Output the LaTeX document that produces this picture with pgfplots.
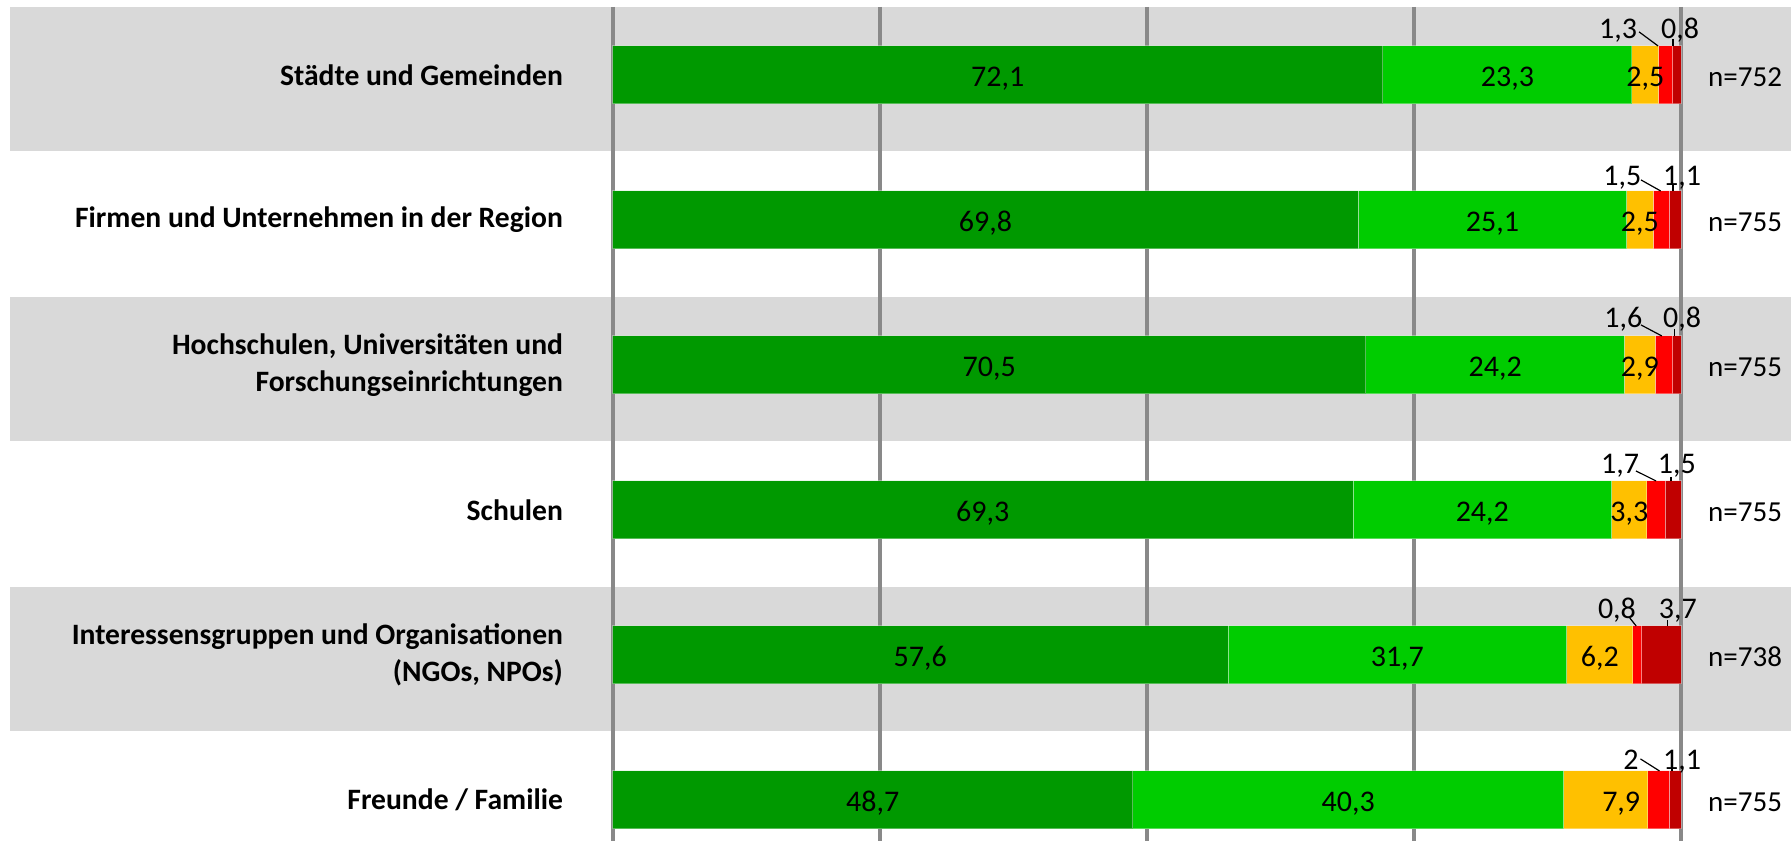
\documentclass[border=0pt]{standalone}
\usepackage{pgfplots}
\pgfplotsset{compat=1.18}
\usepackage{pgfplotstable}
\usepackage{fontspec}
\setmainfont{Carlito}
\definecolor{cA}{RGB}{0,153,0}
\definecolor{cB}{RGB}{0,204,0}
\definecolor{cC}{RGB}{255,192,0}
\definecolor{cD}{RGB}{255,0,0}
\definecolor{cE}{RGB}{192,0,0}
\definecolor{bandgray}{RGB}{217,217,217}
\definecolor{gridc}{RGB}{137,137,137}
\pgfplotstableread{
row a b c d e n
0 72.1 23.3 2.5 1.3 0.8 752
1 69.8 25.1 2.5 1.5 1.1 755
2 70.5 24.2 2.9 1.6 0.8 755
3 69.3 24.2 3.3 1.7 1.5 755
4 57.6 31.7 6.2 0.8 3.7 738
5 48.7 40.3 7.9 2 1.1 755
}\mytable
\tikzset{
  catlab/.style={anchor=east, align=right, inner sep=0pt, font=\fontsize{14.8}{18.3}\selectfont\bfseries},
  vlab/.style={anchor=base, inner sep=0pt, yshift=-6pt, font=\fontsize{15}{18}\selectfont},
  slab/.style={anchor=base, inner sep=0pt, yshift=#1, font=\fontsize{15}{18}\selectfont},
  nlab/.style={anchor=base west, inner sep=0pt, yshift=-5.8pt, font=\fontsize{14.5}{17}\selectfont},
  lead/.style={black, line width=0.6pt},
  gl/.style={gridc, line width=2pt},
}
\pgfplotsset{frame/.style={
  scale only axis, width=895.5pt, height=420.5pt,
  xmin=-57.32, xmax=110.29, ymin=-0.517, ymax=5.283,
  y dir=reverse, hide axis}}
\begin{document}
\begin{tikzpicture}
\begin{axis}[frame]
\path (rel axis cs:0,0) rectangle (rel axis cs:1,1);
\fill[bandgray] (axis cs:-56.4,-0.467) rectangle (axis cs:110.29,0.524);
\fill[bandgray] (axis cs:-56.4,1.533) rectangle (axis cs:110.29,2.524);
\fill[bandgray] (axis cs:-56.4,3.533) rectangle (axis cs:110.29,4.524);
\draw[gl] (axis cs:0,-0.469) -- (axis cs:0,5.283);
\draw[gl] (axis cs:25,-0.469) -- (axis cs:25,5.283);
\draw[gl] (axis cs:50,-0.469) -- (axis cs:50,5.283);
\draw[gl] (axis cs:75,-0.469) -- (axis cs:75,5.283);
\draw[gl] (axis cs:100,-0.469) -- (axis cs:100,5.283);
\end{axis}
\begin{axis}[frame, xbar stacked, bar width=29pt]
\addplot[fill=cA, draw=white, draw opacity=0.35, line width=0.5pt] table[x=a, y=row] {\mytable};
\addplot[fill=cB, draw=white, draw opacity=0.35, line width=0.5pt] table[x=b, y=row] {\mytable};
\addplot[fill=cC, draw=white, draw opacity=0.35, line width=0.5pt] table[x=c, y=row] {\mytable};
\addplot[fill=cD, draw=white, draw opacity=0.35, line width=0.5pt] table[x=d, y=row] {\mytable};
\addplot[fill=cE, draw=white, draw opacity=0.35, line width=0.5pt] table[x=e, y=row] {\mytable};
\end{axis}
\begin{axis}[frame]
\path (rel axis cs:0,0) rectangle (rel axis cs:1,1);
\node[catlab] at (axis cs:-4.6,0) {Städte und Gemeinden};
\node[catlab] at (axis cs:-4.6,1) {Firmen und Unternehmen in der Region};
\node[catlab] at (axis cs:-4.6,2) {Hochschulen, Universitäten und\\Forschungseinrichtungen};
\node[catlab] at (axis cs:-4.6,3) {Schulen};
\node[catlab] at (axis cs:-4.6,4) {Interessensgruppen und Organisationen\\(NGOs, NPOs)};
\node[catlab] at (axis cs:-4.6,5) {Freunde / Familie};
\node[vlab] at (axis cs:36.05,0) {72,1}; \node[vlab] at (axis cs:83.75,0) {23,3}; \node[vlab] at (axis cs:96.65,0) {2,5};
\node[vlab] at (axis cs:34.9,1) {69,8};  \node[vlab] at (axis cs:82.35,1) {25,1}; \node[vlab] at (axis cs:96.15,1) {2,5};
\node[vlab] at (axis cs:35.25,2) {70,5}; \node[vlab] at (axis cs:82.6,2) {24,2};  \node[vlab] at (axis cs:96.15,2) {2,9};
\node[vlab] at (axis cs:34.65,3) {69,3}; \node[vlab] at (axis cs:81.4,3) {24,2};  \node[vlab] at (axis cs:95.15,3) {3,3};
\node[vlab] at (axis cs:28.8,4) {57,6};  \node[vlab] at (axis cs:73.45,4) {31,7}; \node[vlab] at (axis cs:92.4,4) {6,2};
\node[vlab] at (axis cs:24.35,5) {48,7}; \node[vlab] at (axis cs:68.85,5) {40,3}; \node[vlab] at (axis cs:94.4,5) {7,9};
\node[slab=18.3pt] at (axis cs:94.1,0) {1,3};  \node[slab=18.3pt] at (axis cs:99.9,0) {0,8};
\node[slab=17.3pt] at (axis cs:94.5,1) {1,5};  \node[slab=17.3pt] at (axis cs:100.1,1) {1,1};
\node[slab=18.8pt] at (axis cs:94.6,2) {1,6};  \node[slab=18.8pt] at (axis cs:100.1,2) {0,8};
\node[slab=18.3pt] at (axis cs:94.3,3) {1,7};  \node[slab=18.3pt] at (axis cs:99.6,3) {1,5};
\node[slab=18.3pt] at (axis cs:94.0,4) {0,8};  \node[slab=18.3pt] at (axis cs:99.7,4) {3,7};
\node[slab=15.3pt] at (axis cs:95.3,5) {2};    \node[slab=15.3pt] at (axis cs:100.1,5) {1,1};
\draw[lead] (axis cs:96.07,-0.297) -- (axis cs:97.85,-0.2);
\draw[lead] (axis cs:99.25,-0.248) -- (axis cs:99.25,-0.2);
\draw[lead] (axis cs:96.25,0.724) -- (axis cs:98.09,0.8);
\draw[lead] (axis cs:99.25,0.75) -- (axis cs:99.25,0.8);
\draw[lead] (axis cs:96.25,1.724) -- (axis cs:98.2,1.8);
\draw[lead] (axis cs:99.35,1.752) -- (axis cs:99.35,1.8);
\draw[lead] (axis cs:95.78,2.731) -- (axis cs:97.66,2.8);
\draw[lead] (axis cs:99.06,2.772) -- (axis cs:99.06,2.8);
\draw[lead] (axis cs:95.2,3.745) -- (axis cs:95.8,3.8);
\draw[lead] (axis cs:98.7,3.759) -- (axis cs:98.7,3.8);
\draw[lead] (axis cs:96.2,4.717) -- (axis cs:97.98,4.8);
\draw[lead] (axis cs:99.16,4.745) -- (axis cs:99.16,4.8);
\node[nlab] at (axis cs:102.5,0) {n=752};
\node[nlab] at (axis cs:102.5,1) {n=755};
\node[nlab] at (axis cs:102.5,2) {n=755};
\node[nlab] at (axis cs:102.5,3) {n=755};
\node[nlab] at (axis cs:102.5,4) {n=738};
\node[nlab] at (axis cs:102.5,5) {n=755};
\end{axis}
\end{tikzpicture}
\end{document}
